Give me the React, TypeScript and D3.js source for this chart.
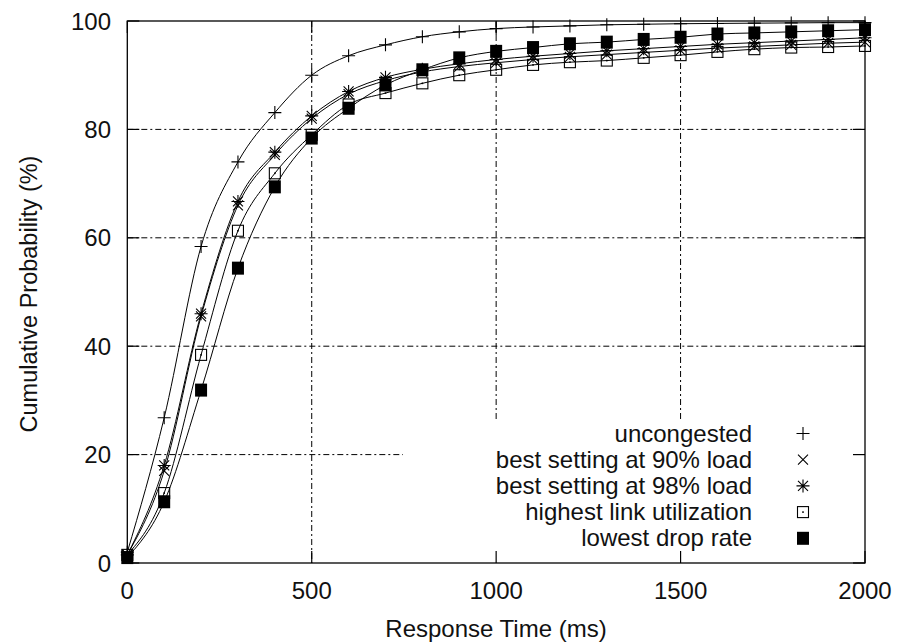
import React from "react";
import * as d3 from "d3";

const times = [0, 100, 200, 300, 400, 500, 600, 700, 800, 900, 1000, 1100, 1200, 1300, 1400, 1500, 1600, 1700, 1800, 1900, 2000];

const uncongested = [2, 26.8, 58.4, 74.0, 83.1, 90.0, 93.6, 95.6, 97.1, 98.0, 98.6, 98.9, 99.1, 99.3, 99.4, 99.5, 99.55, 99.6, 99.65, 99.7, 99.7];
const best90 = [1.5, 17, 45.5, 66, 75.3, 82, 86.5, 89, 90.6, 91.6, 92.3, 92.9, 93.4, 93.8, 94.2, 94.6, 95.0, 95.3, 95.6, 95.9, 96.1];
const best98 = [1.5, 18, 46, 66.7, 75.8, 82.5, 87, 89.6, 91.1, 92.1, 92.9, 93.5, 94.0, 94.5, 94.9, 95.3, 95.7, 96.0, 96.3, 96.6, 96.9];
const highestLink = [1.5, 12.9, 38.4, 61.3, 71.9, 79, 84.6, 86.7, 88.5, 90.0, 91.0, 91.9, 92.4, 92.7, 93.2, 93.7, 94.3, 94.8, 95.1, 95.2, 95.4];
const lowestDrop = [1, 11.3, 31.9, 54.4, 69.4, 78.4, 83.9, 88.2, 91.0, 93.2, 94.4, 95.1, 95.8, 96.1, 96.6, 97.0, 97.6, 97.8, 98.0, 98.2, 98.4];

const seriesNames = ["uncongested", "best setting at 90% load", "best setting at 98% load", "highest link utilization", "lowest drop rate"];
const seriesData = [uncongested, best90, best98, highestLink, lowestDrop];
const seriesMarkers = ["plus", "cross", "star", "openSquare", "filledSquare"];

const xTicks = [0, 500, 1000, 1500, 2000];
const yTicks = [0, 20, 40, 60, 80, 100];

const W = 897, H = 644;
const L = 127.3, R = 865, T = 21, B = 563;
const FONT = "'Liberation Sans', Arial, Helvetica, sans-serif";

function Marker({ type, x, y }: { type: string; x: number; y: number }) {
  const s = 6.5;
  const c = 5;
  const st = { stroke: "#000", strokeWidth: 1.1, fill: "none" } as const;
  if (type === "plus")
    return <path d={`M${x - s},${y}H${x + s}M${x},${y - s}V${y + s}`} {...st} />;
  if (type === "cross")
    return <path d={`M${x - c},${y - c}L${x + c},${y + c}M${x - c},${y + c}L${x + c},${y - c}`} {...st} />;
  if (type === "star")
    return (
      <path
        d={`M${x - s},${y}H${x + s}M${x},${y - s}V${y + s}M${x - c},${y - c}L${x + c},${y + c}M${x - c},${y + c}L${x + c},${y - c}`}
        {...st}
      />
    );
  if (type === "openSquare")
    return (
      <g>
        <rect x={x - 5.5} y={y - 5.5} width={11} height={11} {...st} />
        <rect x={x - 0.8} y={y - 0.8} width={1.6} height={1.6} fill="#000" />
      </g>
    );
  return <rect x={x - 6} y={y - 6.5} width={12} height={13} fill="#000" />;
}

export default function App() {
  const x = d3.scaleLinear().domain([0, 2000]).range([L, R]);
  const y = d3.scaleLinear().domain([0, 100]).range([B, T]);
  const line = d3
    .line<number>()
    .x((_, i) => x(times[i]))
    .y((d) => y(d))
    .curve(d3.curveMonotoneX);

  const gridStyle = { stroke: "#000", strokeWidth: 1, strokeDasharray: "6,3,2,3" };
  const legendX = 752;
  const legendMarkX = 803;
  const legendY0 = 441.5;
  const legendDY = 26.2;

  return (
    <svg width={W} height={H} style={{ position: "absolute", left: 0, top: 0, background: "#fff" }} fontFamily={FONT}>
      <rect width={W} height={H} fill="#fff" />
      {/* grid */}
      {xTicks.slice(1, -1).map((t) => (
        <line key={"gx" + t} x1={x(t)} x2={x(t)} y1={T} y2={B} {...gridStyle} />
      ))}
      {yTicks.slice(1, -1).map((t) => (
        <line key={"gy" + t} x1={L} x2={R} y1={y(t)} y2={y(t)} {...gridStyle} />
      ))}
      {/* legend background */}
      <rect x={403} y={421} width={R - 403} height={B - 421} fill="#fff" />
      {/* frame */}
      <rect x={L} y={T} width={R - L} height={B - T} fill="none" stroke="#000" strokeWidth={1.3} />
      {xTicks.map((t) => (
        <g key={"tx" + t}>
          <line x1={x(t)} x2={x(t)} y1={B} y2={B - 12} stroke="#000" strokeWidth={1.2} />
          <line x1={x(t)} x2={x(t)} y1={T} y2={T + 12} stroke="#000" strokeWidth={1.2} />
          <text x={x(t)} y={599} textAnchor="middle" fontSize={24} fill="#111">
            {t}
          </text>
        </g>
      ))}
      {yTicks.map((t) => (
        <g key={"ty" + t}>
          <line x1={L} x2={L + 12} y1={y(t)} y2={y(t)} stroke="#000" strokeWidth={1.2} />
          <line x1={R} x2={R - 12} y1={y(t)} y2={y(t)} stroke="#000" strokeWidth={1.2} />
          <text x={111} y={y(t)} dy="0.36em" textAnchor="end" fontSize={24} fill="#111">
            {t}
          </text>
        </g>
      ))}
      {/* axis titles */}
      <text x={496} y={637} textAnchor="middle" fontSize={24} fill="#111">
        Response Time (ms)
      </text>
      <text transform={`translate(37,294) rotate(-90)`} textAnchor="middle" fontSize={23.5} fill="#111">
        Cumulative Probability (%)
      </text>
      {/* curves */}
      {seriesData.map((d, si) => (
        <g key={"s" + si}>
          <path d={line(d) || ""} fill="none" stroke="#000" strokeWidth={1} />
          {d.map((v, i) => (
            <Marker key={i} type={seriesMarkers[si]} x={x(times[i])} y={y(v)} />
          ))}
        </g>
      ))}
      {/* legend */}
      {seriesNames.map((n, i) => (
        <g key={"l" + i}>
          <text x={legendX} y={legendY0 + i * legendDY} textAnchor="end" fontSize={24} fill="#111">
            {n}
          </text>
          <Marker type={seriesMarkers[i]} x={legendMarkX} y={legendY0 - 8 + i * legendDY} />
        </g>
      ))}
    </svg>
  );
}
